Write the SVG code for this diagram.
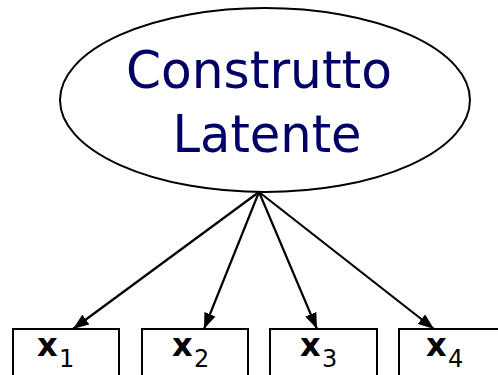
<svg xmlns="http://www.w3.org/2000/svg" width="498" height="375" viewBox="0 0 498 375">
<style>
.line{stroke:#000;stroke-width:2.2;fill:none}
.box{fill:#fff;stroke:#000;stroke-width:2}
.title{font-family:"DejaVu Sans",sans-serif;font-size:52px;fill:#000066;text-anchor:middle}
.var{font-family:"DejaVu Sans",sans-serif;font-weight:bold;font-size:32px;fill:#000}
.sub{font-family:"DejaVu Sans",sans-serif;font-size:24px;fill:#000}
</style>
<defs>
<marker id="ah" viewBox="0 0 16 12" refX="16" refY="6" markerWidth="16" markerHeight="12" markerUnits="userSpaceOnUse" orient="auto">
<path d="M0,0 L16,6 L0,12 Z" fill="#000"/>
</marker>
</defs>
<rect width="498" height="375" fill="#fff"/>
<g id="latent">
<ellipse cx="265" cy="100" rx="205" ry="92" fill="#fff" stroke="#000" stroke-width="2"/>
<text class="title" x="259" y="88" textLength="266" lengthAdjust="spacingAndGlyphs">Construtto</text>
<text class="title" x="267" y="152" textLength="189" lengthAdjust="spacingAndGlyphs">Latente</text>
</g>
<g id="connectors">
<line class="line" x1="259" y1="192" x2="73" y2="329" marker-end="url(#ah)"/>
<line class="line" x1="259" y1="192" x2="204" y2="329" marker-end="url(#ah)"/>
<line class="line" x1="259" y1="192" x2="317" y2="329" marker-end="url(#ah)"/>
<line class="line" x1="259" y1="192" x2="434" y2="329" marker-end="url(#ah)"/>
</g>
<g id="x1">
<rect class="box" x="13" y="329" width="106" height="60"/>
<text class="var" x="37" y="356">x</text><text class="sub" x="59" y="367">1</text>
</g>
<g id="x2">
<rect class="box" x="142" y="329" width="106" height="60"/>
<text class="var" x="172" y="356">x</text><text class="sub" x="194" y="367">2</text>
</g>
<g id="x3">
<rect class="box" x="270" y="329" width="107" height="60"/>
<text class="var" x="300" y="356">x</text><text class="sub" x="322" y="367">3</text>
</g>
<g id="x4">
<rect class="box" x="399" y="329" width="106" height="60"/>
<text class="var" x="426" y="356">x</text><text class="sub" x="448" y="367">4</text>
</g>
</svg>
